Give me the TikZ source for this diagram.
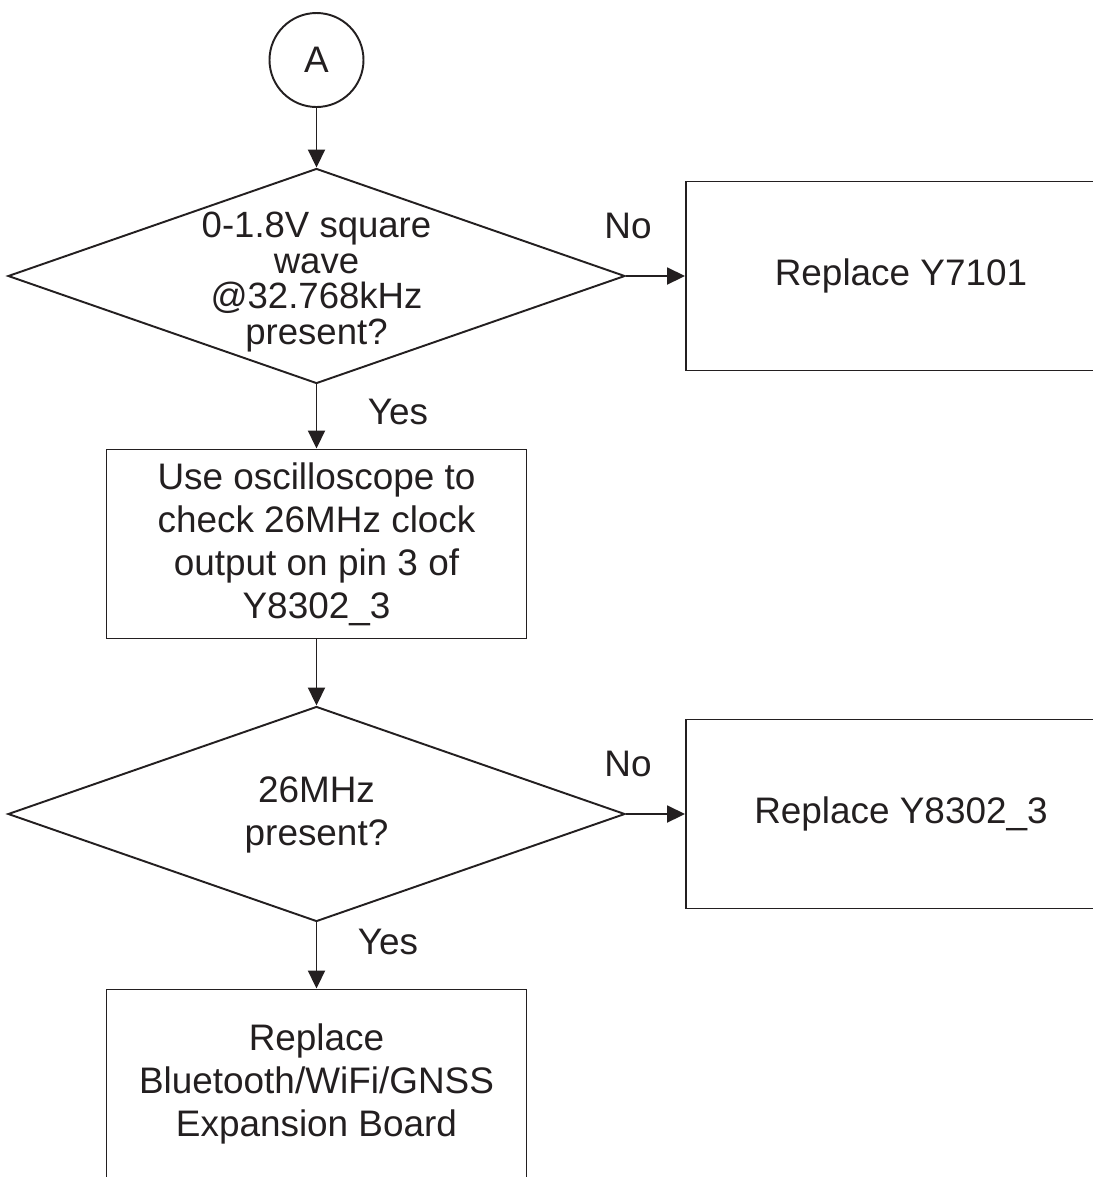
\documentclass[tikz,border=0pt]{standalone}
\usepackage{fontspec}
\setmainfont{Liberation Sans}
\usetikzlibrary{shapes.geometric,arrows.meta}
\definecolor{ink}{HTML}{231F20}

\begin{document}
\begin{tikzpicture}[color=ink, line width=1.1pt,
    txt/.style={font=\fontsize{21}{24.4}\selectfont, align=center},
    box/.style={draw, rectangle, txt, minimum width=8.4cm, minimum height=3.78cm},
    decision/.style={draw, diamond, inner sep=0pt, minimum width=12.34cm, minimum height=4.3cm},
    flow/.style={-{Triangle[length=0.36cm,width=0.34cm]}}]
    \useasboundingbox (0,0) rectangle (21.86,-23.54);
    \clip (0,0) rectangle (21.86,-23.54);

    \node[draw, circle, minimum size=1.88cm, inner sep=0pt, txt] (a) at (6.33,-1.2) {A};

    \node[decision] (q1) at (6.33,-5.52) {};
    \node[align=center, font=\fontsize{20.8}{20.3}\selectfont] (q1text) at (6.33,-5.64)
        {0-1.8V square\\wave\\@32.768kHz\\present?};
    \node[box, minimum width=8.6cm] (rep1) at (18.02,-5.52) {Replace Y7101};

    \node[box] (scope) at (6.33,-10.88)
        {Use oscilloscope to\\check 26MHz clock\\output on pin 3 of\\Y8302\_3};

    \node[decision] (q2) at (6.33,-16.28) {};
    \node[txt] (q2text) at (6.33,-16.3) {26MHz\\present?};
    \node[box, minimum width=8.6cm] (rep2) at (18.02,-16.28) {Replace Y8302\_3};

    \node[box] (rep3) at (6.33,-21.68) {Replace\\Bluetooth/WiFi/GNSS\\Expansion Board};

    \draw[flow] (a) -- (q1);
    \draw[flow] (q1) -- (rep1);
    \draw[flow] (q1) -- (scope);
    \draw[flow] (scope) -- (q2);
    \draw[flow] (q2) -- (rep2);
    \draw[flow] (q2) -- (rep3);

    \node[txt] (no1) at (12.56,-4.52) {No};
    \node[txt] (yes1) at (7.96,-8.24) {Yes};
    \node[txt] (no2) at (12.56,-15.28) {No};
    \node[txt] (yes2) at (7.76,-18.84) {Yes};
\end{tikzpicture}
\end{document}
